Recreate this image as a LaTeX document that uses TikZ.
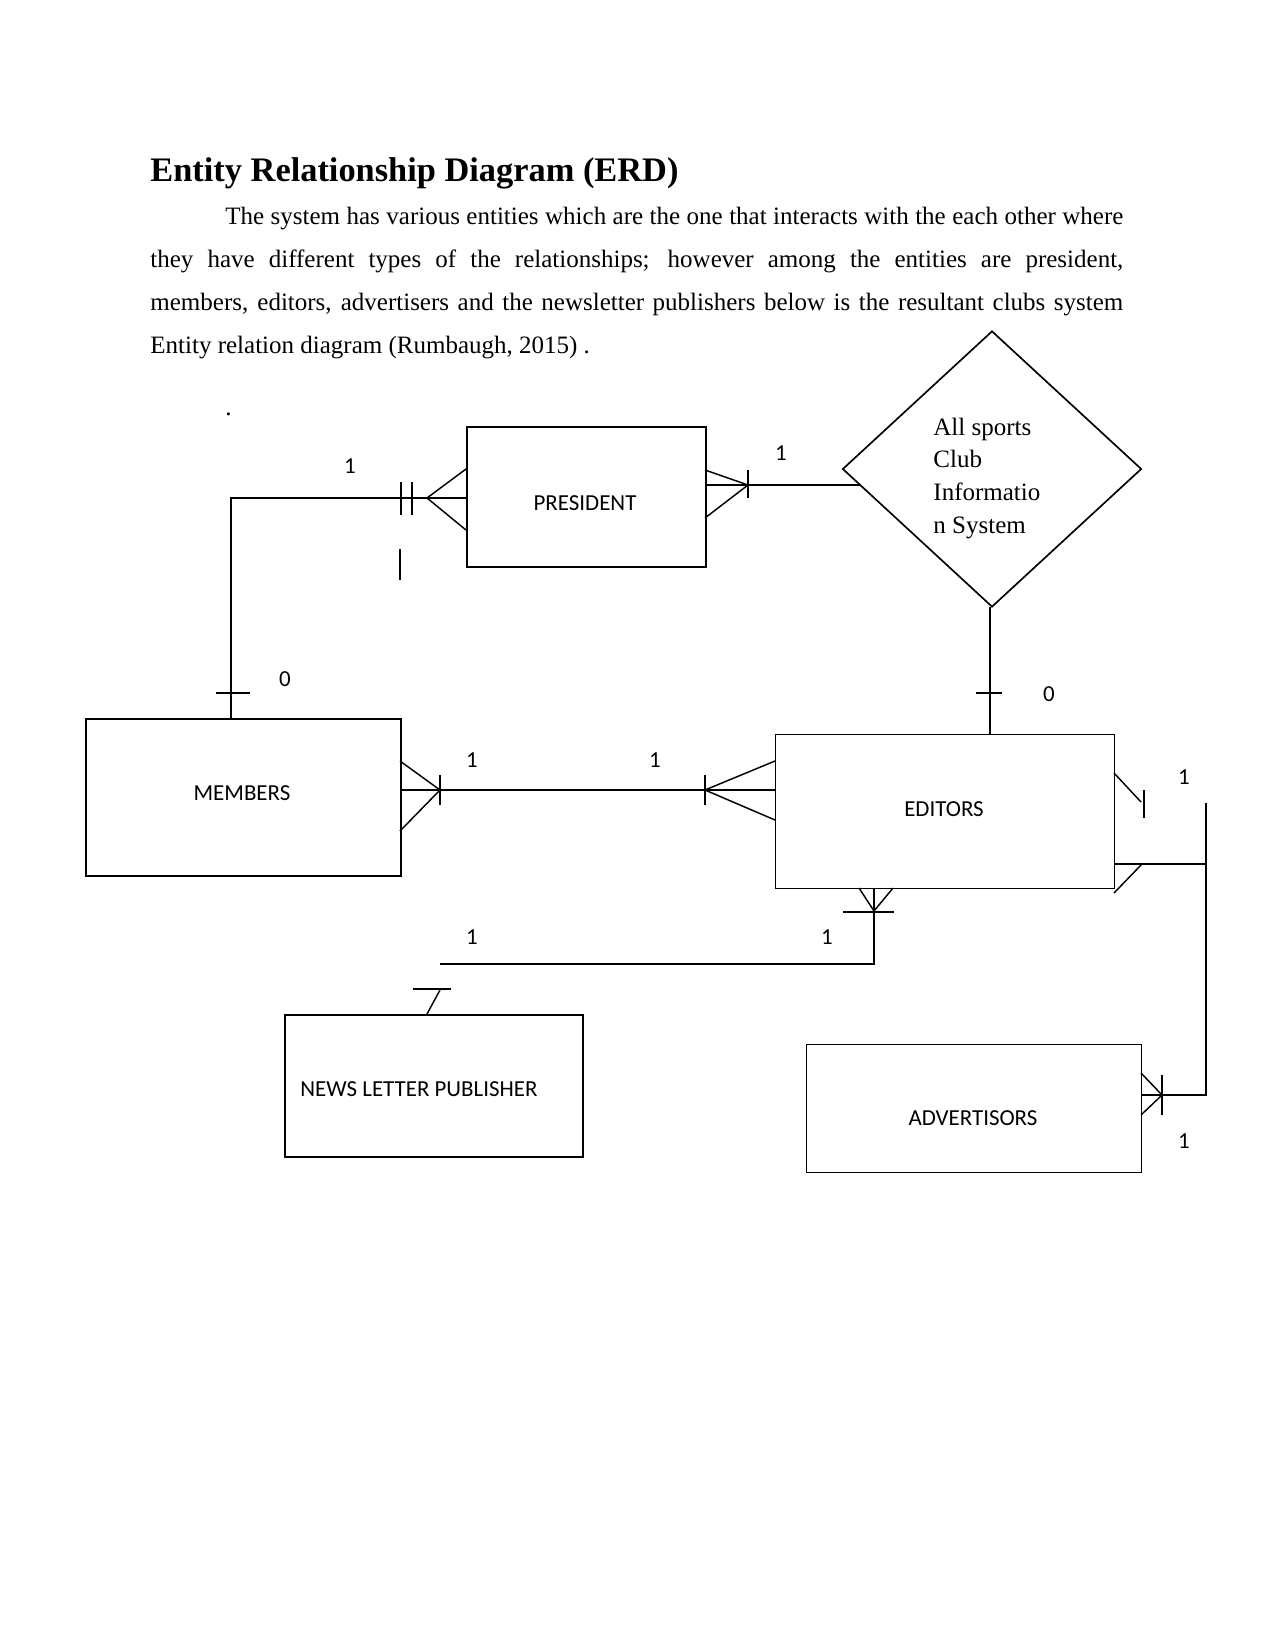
\documentclass[tikz,border=0pt]{standalone}
\usepackage{fontspec}
\setmainfont{Liberation Serif}
\newfontfamily\calib{Carlito}
\usetikzlibrary{shapes.geometric}
\tikzset{
  ebox/.style={draw, line width=0.9pt, inner sep=0pt, anchor=north west},
  conn/.style={line width=0.7pt},
  card/.style={inner sep=0pt, font=\calib\fontsize{11}{13}\selectfont},
  para/.style={inner sep=0pt, anchor=base west, font=\fontsize{12}{14}\selectfont}
}
\begin{document}
\begin{tikzpicture}[x=0.48pt,y=-0.48pt]
\useasboundingbox[fill=white] (0,0) rectangle (1275,1650);

% heading and paragraph
\node[inner sep=0pt, anchor=base west, font=\bfseries\fontsize{16.5}{19}\selectfont] (title) at (150,182) {Entity Relationship Diagram (ERD)};
\node[para] (l1) at (225,225) {\makebox[431pt][s]{The system has various entities which are the one that interacts with the each other where}};
\node[para] (l2) at (150,268) {\makebox[467pt][s]{they have different types of the relationships; however among the entities are president,}};
\node[para] (l3) at (150,311) {\makebox[467pt][s]{members, editors, advertisers and the newsletter publishers below is the resultant clubs system}};
\node[para] (l4) at (150,354) {Entity relation diagram (Rumbaugh, 2015) .};
\node[para] (dot) at (225,415) {.};

% entities
\node[ebox, minimum width=239*0.48pt, minimum height=140*0.48pt] (pres) at (466,426) {};
\node[card] (prest) at (585,503) {PRESIDENT};
\node[ebox, minimum width=315*0.48pt, minimum height=157*0.48pt] (members) at (85,718) {};
\node[card] (memt) at (242,793) {MEMBERS};
\node[ebox, line width=0.7pt, minimum width=339*0.48pt, minimum height=154*0.48pt] (editors) at (775,734) {};
\node[card] (edt) at (944,809) {EDITORS};
\node[ebox, minimum width=298*0.48pt, minimum height=142*0.48pt] (nlp) at (284,1014) {};
\node[card, anchor=west] (nlpt) at (300,1089) {NEWS LETTER PUBLISHER};
\node[ebox, line width=0.7pt, minimum width=335*0.48pt, minimum height=128*0.48pt] (adv) at (806,1044) {};
\node[card] (advt) at (973,1118) {ADVERTISORS};

% system diamond
\node[diamond, draw, line width=0.8pt, inner sep=0pt, minimum width=299*0.48pt, minimum height=276*0.48pt] (sys) at (992,469) {};
\node[inner sep=0pt, anchor=base west, font=\fontsize{12}{14}\selectfont] (syst) at (933,435)
  {\parbox[t]{70pt}{\raggedright\baselineskip=15.8pt All sports\\Club\\Informatio\\n System}};

% PRESIDENT -- MEMBERS
\coordinate (pm) at (231,498);
\draw[conn] (pres.west |- pm) -- (pm) -- (pm |- members.north);
\draw[conn] (466,469) -- (427,498) -- (466,530);
\draw[conn] (401,482) -- (401,515) (412,482) -- (412,515);
\draw[conn] (400,549) -- (400,580);
\draw[conn] (216,693) -- (250,693);
\node[card] (c1) at (350,466) {1};
\node[card] (c2) at (285,679) {0};

% PRESIDENT -- system
\coordinate (ps) at (860,485);
\draw[conn] (pres.east |- ps) -- (ps);
\draw[conn] (705,470) -- (748,485) -- (705,518);
\draw[conn] (748,470) -- (748,498);
\node[card] (c3) at (781,453) {1};

% system -- EDITORS
\coordinate (se) at (990,607);
\draw[conn] (se) -- (se |- editors.north);
\draw[conn] (976,693) -- (1002,693);
\node[card] (c4) at (1049,694) {0};

% MEMBERS -- EDITORS
\coordinate (me) at (600,790);
\draw[conn] (members.east |- me) -- (editors.west |- me);
\draw[conn] (400,761) -- (440,790) -- (400,831);
\draw[conn] (440,775) -- (440,805);
\draw[conn] (775,761) -- (705,790) -- (775,820);
\draw[conn] (705,775) -- (705,805);
\node[card] (c5) at (472,760) {1};
\node[card] (c6) at (655,760) {1};

% EDITORS -- NEWS LETTER PUBLISHER
\coordinate (en) at (874,964);
\coordinate (enl) at (440,964);
\draw[conn] (en |- editors.south) -- (en) -- (enl);
\draw[conn] (859,888) -- (874,911) -- (893,888);
\draw[conn] (843,912) -- (894,912);
\draw[conn] (413,989) -- (451,989);
\draw[conn] (440,990) -- (427,1014);
\node[card] (c7) at (472,937) {1};
\node[card] (c8) at (827,937) {1};

% EDITORS -- ADVERTISORS
\coordinate (ea) at (1206,864);
\coordinate (eat) at (1206,803);
\coordinate (eab) at (1206,1095);
\draw[conn] (editors.east |- ea) -- (ea);
\draw[conn] (eat) -- (eab) -- (adv.east |- eab);
\draw[conn] (1114,773) -- (1141,802);
\draw[conn] (1144,790) -- (1144,818);
\draw[conn] (1142,864) -- (1114,893);
\draw[conn] (1141,1073) -- (1162,1095) -- (1141,1115);
\draw[conn] (1162,1075) -- (1162,1115);
\node[card] (c9) at (1184,777) {1};
\node[card] (c10) at (1184,1141) {1};
\end{tikzpicture}
\end{document}
